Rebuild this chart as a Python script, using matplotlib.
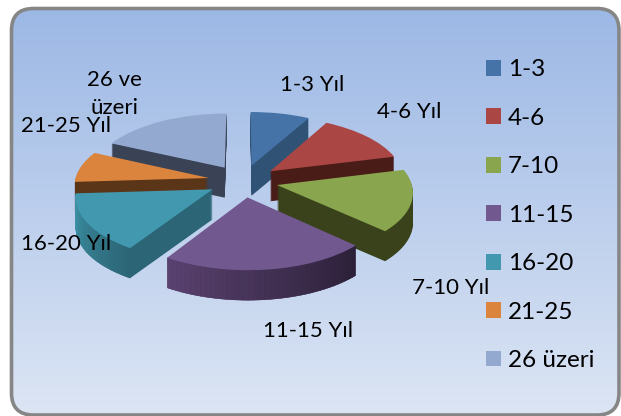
import numpy as np
import matplotlib
matplotlib.use("Agg")
import matplotlib.pyplot as plt
from matplotlib.patches import FancyBboxPatch, Polygon
from matplotlib.transforms import Transform
from matplotlib.colors import to_rgb

plt.rcParams['font.family'] = ['Lato', 'DejaVu Sans']

# data (percent)
categories = ["1-3", "4-6", "7-10", "11-15", "16-20", "21-25", "26 üzeri"]
values = [8, 13, 16, 22, 15, 8, 18]
slice_labels = ["1-3 Yıl", "4-6 Yıl", "7-10 Yıl", "11-15 Yıl", "16-20 Yıl", "21-25 Yıl", "26 ve\nüzeri"]

top_colors = ["#4572a7", "#aa4643", "#89a54e", "#71588f", "#4198af", "#db843d", "#93a9cf"]
wall_colors = ["#2f5275", "#4a1c18", "#39421b", "#3f2f55", "#2c6676", "#5a3518", "#3a4356"]
# wall shading along the rim, left end to right end
rim_left = ["#2f5275", "#4a1c18", "#39421b", "#5a4270", "#3f97ac", "#5a3518", "#3a4356"]
rim_right = ["#2f5275", "#4a1c18", "#39421b", "#2c2038", "#2c6676", "#5a3518", "#3a4356"]
label_pos = [(312, 85), (409, 112), (451, 288), (308, 331), (66, 244), (66, 126), (114, 94)]

CX, CY = 243, 181
RX, RY = 134, 62
PERSP = 0.10
EXPLODE = 0.26
DEPTH = 30


class Tilt(Transform):
    # lays the flat unit pie down, far side smaller, moved down by drop pixels
    input_dims = output_dims = 2

    def __init__(self, drop=0):
        super().__init__()
        self.drop = drop

    def transform_non_affine(self, xy):
        xy = np.asarray(xy, dtype=float)
        f = 1 / (1 + PERSP * xy[:, 1])
        return np.column_stack([CX + xy[:, 0] * RX * f, CY - xy[:, 1] * RY * f + self.drop])


fig = plt.figure(figsize=(6.21, 4.16), dpi=100)
ax = fig.add_axes([0, 0, 1, 1])


def draw_pie(drop, colors, z_base):
    wedges, _ = ax.pie(values, colors=colors, explode=[EXPLODE] * len(values), startangle=90,
                       counterclock=False, radius=1, normalize=True, frame=False)
    for i, w in enumerate(wedges):
        w.set_transform(Tilt(drop) + ax.transData)
        w.set_linewidth(0)
        w.set_zorder(z_base[i])
    return wedges


# back to front
order = [0, 6, 1, 5, 2, 4, 3]
z_wall = {s: 5 + 2 * k for k, s in enumerate(order)}
z_top = {s: 6 + 2 * k for k, s in enumerate(order)}

for d in range(DEPTH, 0, -1):
    draw_pie(d, wall_colors, z_wall)
top_wedges = draw_pie(0, top_colors, z_top)

# shaded rim strips on the outer wall
shares = np.cumsum([0] + values) / sum(values) * 2 * np.pi
tilt = Tilt(0)
for i in range(len(values)):
    if rim_left[i] == rim_right[i]:
        continue
    mid = (shares[i] + shares[i + 1]) / 2
    a = np.linspace(shares[i], shares[i + 1], 40)
    ox, oy = EXPLODE * np.sin(mid), EXPLODE * np.cos(mid)
    pts = tilt.transform_non_affine(np.column_stack([ox + np.sin(a), oy + np.cos(a)]))
    if pts[0, 0] > pts[-1, 0]:
        pts = pts[::-1]
    c0, c1 = np.array(to_rgb(rim_left[i])), np.array(to_rgb(rim_right[i]))
    for k in range(len(pts) - 1):
        t = k / (len(pts) - 2)
        col = c0 + (c1 - c0) * t
        quad = [pts[k], pts[k + 1], pts[k + 1] + [0, DEPTH], pts[k] + [0, DEPTH]]
        ax.add_patch(Polygon(quad, closed=True, facecolor=col, edgecolor=col,
                             linewidth=0.3, zorder=z_wall[i] + 0.5))

ax.set_aspect('auto')
ax.axis('off')

# background panel
panel = FancyBboxPatch((11.5, 8.5), 607.5, 406.5, boxstyle="round,pad=0,rounding_size=22",
                       facecolor='none', edgecolor='#868686', linewidth=2.6, zorder=3)
ax.add_patch(panel)
grad = np.linspace(0, 1, 256).reshape(-1, 1, 1)
c_top, c_bot = np.array(to_rgb("#9cb8e5")), np.array(to_rgb("#dce5f4"))
img = ax.imshow(c_top + (c_bot - c_top) * grad, extent=(11.5, 619, 415, 8.5), aspect='auto', zorder=1)
img.set_clip_path(panel)
ax.set_xlim(0, 621)
ax.set_ylim(416, 0)

for text, (x, y) in zip(slice_labels, label_pos):
    ax.text(x, y, text, ha='center', va='center', fontsize=16, color='black', zorder=30, linespacing=1.5)

leg = ax.legend(top_wedges, categories, loc='upper left', bbox_to_anchor=(464 / 621, 1 - 37.5 / 416),
                frameon=False, fontsize=17.5, handlelength=0.62, handleheight=0.62,
                handletextpad=0.29, labelspacing=1.13, borderpad=0.4)
leg.set_zorder(40)

fig.savefig("out.png", dpi=100)
